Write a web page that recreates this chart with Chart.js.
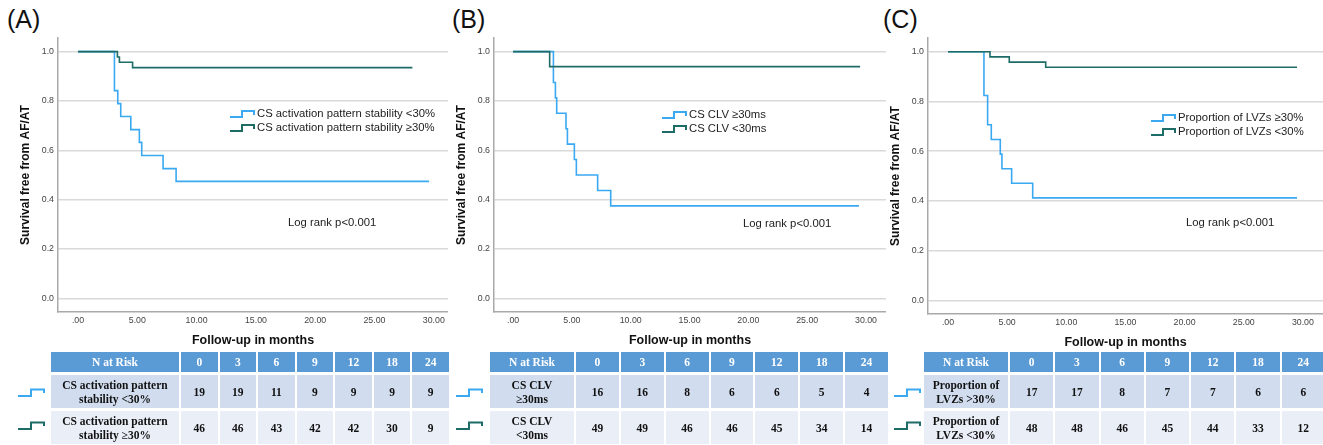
<!DOCTYPE html>
<html>
<head>
<meta charset="utf-8">
<script src="https://cdn.jsdelivr.net/npm/chart.js@4"></script>
<style>
  body { margin: 0; background: #fff; width: 1323px; height: 445px; overflow: hidden; position: relative; font-family: "Liberation Sans", Arial, sans-serif; }
  .lbl { position: absolute; top: 5px; font-size: 25px; color: #111; }
  canvas { position: absolute; top: 0; }
  table.risk { position: absolute; top: 349px; border-collapse: separate; border-spacing: 2px 3px; table-layout: fixed;
    font-family: "Liberation Serif", "Times New Roman", serif; font-weight: bold; font-size: 11.5px; text-align: center; color: #111; }
  table.risk td { padding: 0; line-height: 14px; }
  table.risk tr.hd td { background: #5b9bd5; color: #fff; height: 20px; }
  table.risk tr.r1 td { background: #d1ddef; height: 33px; }
  table.risk tr.r2 td { background: #e9eef7; height: 33px; }
  svg.ico { position: absolute; }
</style>
</head>
<body>
<div class="lbl" style="left:7px">(A)</div>
<div class="lbl" style="left:452px">(B)</div>
<div class="lbl" style="left:883px">(C)</div>
<canvas id="cA" width="448" height="350" style="left:0px"></canvas>
<canvas id="cB" width="450" height="350" style="left:436px"></canvas>
<canvas id="cC" width="453" height="352" style="left:870px"></canvas>
<div id="tables"></div>
<script>
// survival curves (months, survival)
const timesA1 = [0, 3.07, 3.35, 3.6, 4.45, 5.17, 5.37, 7.17, 8.27, 29.6];
const survA1  = [1, 0.842, 0.789, 0.737, 0.684, 0.632, 0.579, 0.526, 0.474, 0.474];
const timesA2 = [0, 3.32, 3.49, 4.6, 28.2];
const survA2  = [1, 0.978, 0.957, 0.935, 0.935];

const timesB1 = [0, 3.43, 3.6, 3.71, 4.5, 4.62, 5.21, 5.38, 7.19, 8.3, 29.4];
const survB1  = [1, 0.875, 0.8125, 0.75, 0.6875, 0.625, 0.5625, 0.5, 0.4375, 0.375, 0.375];
const timesB2 = [0, 3.11, 29.5];
const survB2  = [1, 0.939, 0.939];

const timesC1 = [0, 3.04, 3.35, 3.66, 4.42, 4.56, 5.38, 7.16, 29.5];
const survC1  = [1, 0.824, 0.706, 0.647, 0.588, 0.529, 0.471, 0.412, 0.412];
const timesC2 = [0, 3.55, 5.18, 8.26, 29.5];
const survC2  = [1, 0.979, 0.958, 0.9375, 0.9375];

const labelsA = ['CS activation pattern stability <30%', 'CS activation pattern stability \u226530%'];
const labelsB = ['CS CLV \u226530ms', 'CS CLV <30ms'];
const labelsC = ['Proportion of LVZs \u226530%', 'Proportion of LVZs <30%'];

// numbers at risk
const riskTimes = [0, 3, 6, 9, 12, 18, 24];
const rowNamesA = ['CS activation pattern<br>stability &lt;30%', 'CS activation pattern<br>stability \u226530%'];
const riskA1 = [19, 19, 11, 9, 9, 9, 9];
const riskA2 = [46, 46, 43, 42, 42, 30, 9];
const rowNamesB = ['CS CLV<br>\u226530ms', 'CS CLV<br>&lt;30ms'];
const riskB1 = [16, 16, 8, 6, 6, 5, 4];
const riskB2 = [49, 49, 46, 46, 45, 34, 14];
const rowNamesC = ['Proportion of<br>LVZs &gt;30%', 'Proportion of<br>LVZs &lt;30%'];
const riskC1 = [17, 17, 8, 7, 7, 6, 6];
const riskC2 = [48, 48, 46, 45, 44, 33, 12];

const yTicks = [0, 0.2, 0.4, 0.6, 0.8, 1.0];
const xTicks = [0, 5, 10, 15, 20, 25, 30];

const BLUE = '#3aa9f2';
const TEAL = '#1e6c67';
const FONT = '"Liberation Sans", Arial, sans-serif';

const kmText = {
  id: 'kmText',
  afterDraw(chart, args, o) {
    const ctx = chart.ctx;
    ctx.save();
    ctx.font = '11.3px ' + FONT;
    ctx.textBaseline = 'middle';
    ctx.textAlign = 'left';
    chart.data.datasets.forEach((ds, i) => {
      const x = o.legendX, y = o.legendY + i * 14;
      ctx.strokeStyle = ds.borderColor;
      ctx.lineWidth = 2;
      ctx.beginPath();
      ctx.moveTo(x, y + 3); ctx.lineTo(x + 12, y + 3); ctx.lineTo(x + 12, y - 3);
      ctx.lineTo(x + 24, y - 3); ctx.lineTo(x + 24, y + 1);
      ctx.stroke();
      ctx.fillStyle = '#222';
      ctx.fillText(ds.label, x + 27, y);
    });
    ctx.font = '11.3px ' + FONT;
    ctx.fillText('Log rank p<0.001', o.pX, o.pY);
    ctx.restore();
  }
};

function pts(t, s) { return t.map((v, i) => ({ x: v, y: s[i] })); }

function makeChart(id, labels, t1, s1, t2, s2, xMin, xMax, bottomH, legend) {
  new Chart(document.getElementById(id), {
    type: 'line',
    data: {
      datasets: [
        { label: labels[0], data: pts(t1, s1), borderColor: BLUE, borderWidth: 1.6, stepped: true, pointRadius: 0, order: 1 },
        { label: labels[1], data: pts(t2, s2), borderColor: TEAL, borderWidth: 1.6, stepped: true, pointRadius: 0, order: 0 }
      ]
    },
    options: {
      responsive: false,
      animation: false,
      layout: { padding: { top: 38, left: 0, right: 0, bottom: 0 } },
      plugins: { legend: { display: false }, tooltip: { enabled: false }, kmText: legend },
      scales: {
        x: {
          type: 'linear', min: xMin, max: xMax,
          afterFit: s => { s.height = bottomH; },
          afterBuildTicks: s => { s.ticks = xTicks.map(v => ({ value: v })); },
          grid: { display: false, drawTicks: false },
          border: { display: true, color: '#a9a9a9', width: 1.5 },
          ticks: { color: '#444', font: { family: FONT, size: 8.8 }, padding: 3, maxRotation: 0,
                   callback: v => v === 0 ? '.00' : v.toFixed(2) },
          title: { display: true, text: 'Follow-up in months', color: '#111',
                   font: { family: FONT, size: 12.5, weight: 'bold' }, padding: { top: 0, bottom: 2 } }
        },
        y: {
          type: 'linear', min: -0.055, max: 1.055,
          afterFit: s => { s.width = 58; },
          afterBuildTicks: s => { s.ticks = yTicks.map(v => ({ value: v })); },
          grid: { color: '#d9d9d9', lineWidth: 1.5, drawTicks: false },
          border: { display: true, color: '#a9a9a9', width: 1.5 },
          ticks: { color: '#444', font: { family: FONT, size: 8.8 }, padding: 4,
                   callback: v => v.toFixed(1) },
          title: { display: true, text: 'Survival free from AF/AT', color: '#111',
                   font: { family: FONT, size: 12, weight: 'bold' }, padding: { top: 18, bottom: 0 } }
        }
      }
    },
    plugins: [kmText]
  });
}

makeChart('cA', labelsA, timesA1, survA1, timesA2, survA2, -1.69, 31.2, 38,
  { legendX: 230, legendY: 114, pX: 288, pY: 223 });
makeChart('cB', labelsB, timesB1, survB1, timesB2, survB2, -1.62, 31.7, 38,
  { legendX: 226, legendY: 115, pX: 307, pY: 224 });
makeChart('cC', labelsC, timesC1, survC1, timesC2, survC2, -1.69, 31.7, 38,
  { legendX: 281, legendY: 118, pX: 316, pY: 223 });

function icon(x, y, color) {
  return '<svg class="ico" width="28" height="10" style="left:' + x + 'px;top:' + y + 'px">' +
    '<polyline points="1,8 14,8 14,1.5 27,1.5 27,5" fill="none" stroke="' + color + '" stroke-width="2"/></svg>';
}

function riskTable(left, width, firstW, names, r1, r2, iconX) {
  let h = '<table class="risk" style="left:' + left + 'px;width:' + width + 'px"><colgroup><col style="width:' + firstW + 'px">';
  riskTimes.forEach(() => { h += '<col>'; });
  h += '</colgroup><tr class="hd"><td>N at Risk</td>';
  riskTimes.forEach(t => { h += '<td>' + t + '</td>'; });
  h += '</tr><tr class="r1"><td>' + names[0] + '</td>';
  r1.forEach(v => { h += '<td>' + v + '</td>'; });
  h += '</tr><tr class="r2"><td>' + names[1] + '</td>';
  r2.forEach(v => { h += '<td>' + v + '</td>'; });
  h += '</tr></table>';
  h += icon(iconX, 388, BLUE) + icon(iconX, 421, TEAL);
  return h;
}

document.getElementById('tables').innerHTML =
  riskTable(49, 402, 128, rowNamesA, riskA1, riskA2, 17) +
  riskTable(488, 402, 84, rowNamesB, riskB1, riskB2, 455) +
  riskTable(922, 405, 84, rowNamesC, riskC1, riskC2, 893);
</script>
</body>
</html>
